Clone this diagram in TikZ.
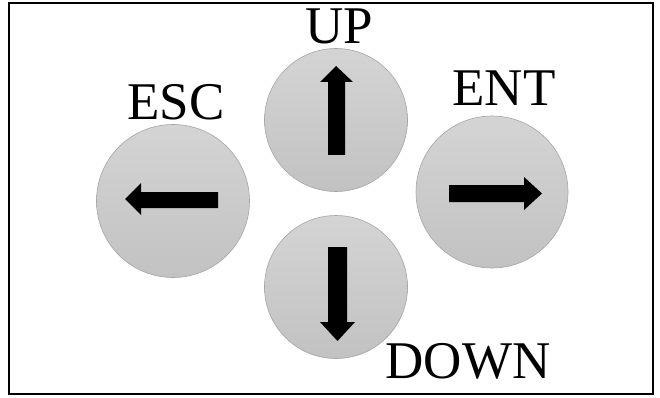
\documentclass[tikz,border=0pt]{standalone}
\usepackage{fontspec}
\setmainfont{Liberation Serif}
\begin{document}
\begin{tikzpicture}[x=1pt,y=-1pt,
  btn/.style={circle,inner sep=0pt,draw={rgb,255:red,165;green,165;blue,165},line width=0.6pt,
    top color={rgb,255:red,212;green,212;blue,212},bottom color={rgb,255:red,194;green,194;blue,194}},
  lbl/.style={anchor=base,inner sep=0pt,font=\fontsize{53}{60}\selectfont},
  arr/.style={fill=black,draw=none}]
\useasboundingbox (0,0) rectangle (660,398);
\node[draw=black,line width=2pt,minimum width=644pt,minimum height=391pt,inner sep=0pt] (frame) at (331,198.5) {};
% buttons
\node[btn,minimum size=143pt] (up) at (336,120) {};
\node[btn,minimum size=153pt] (esc) at (173,201) {};
\node[btn,minimum size=152pt] (ent) at (492,192) {};
\node[btn,minimum size=143pt] (down) at (336,287) {};
% labels
\node[lbl] (uplbl) at (339,44) {UP};
\node[lbl] (esclbl) at (176,120) {ESC};
\node[lbl] (entlbl) at (504,106) {ENT};
\node[lbl] (downlbl) at (468,378) {DOWN};
% arrows
\fill[arr] (328,155) -- (328,82) -- (320,82) -- (336,66) -- (353,82) -- (345,82) -- (345,155) -- cycle;
\fill[arr] (218,192) -- (141,192) -- (141,183) -- (125,199) -- (141,215) -- (141,208) -- (218,208) -- cycle;
\fill[arr] (449,185) -- (524,185) -- (524,177) -- (542,193.5) -- (524,210) -- (524,202) -- (449,202) -- cycle;
\fill[arr] (328,247) -- (328,322) -- (320,322) -- (337.5,341) -- (355,322) -- (347,322) -- (347,247) -- cycle;
\end{tikzpicture}
\end{document}
